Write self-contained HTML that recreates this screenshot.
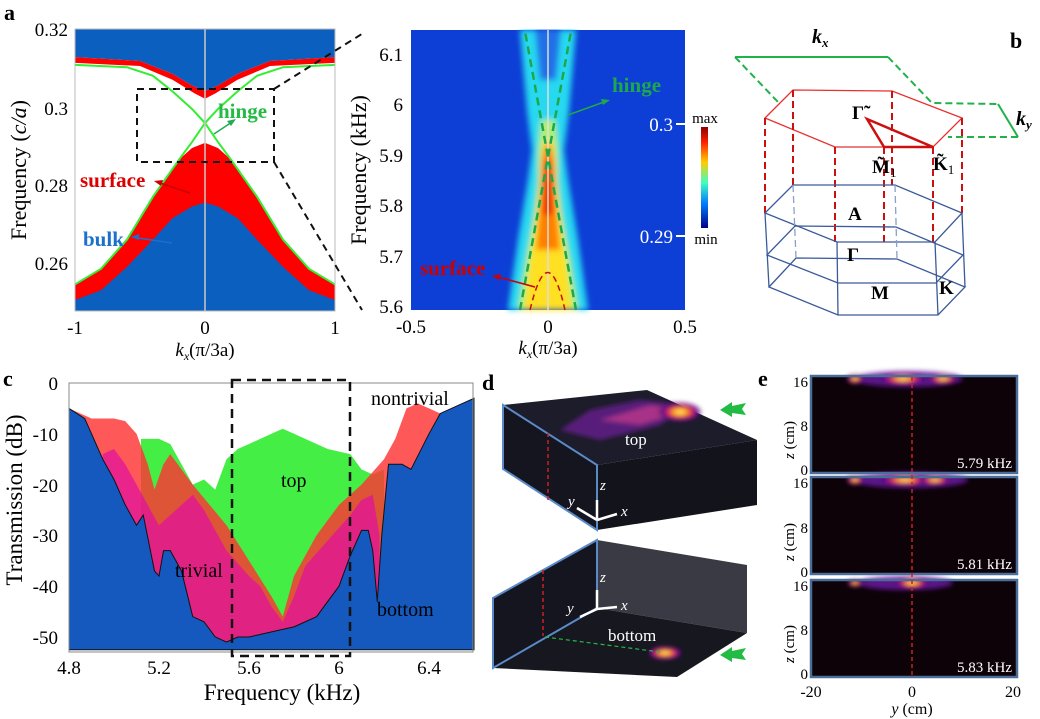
<!DOCTYPE html>
<html><head><meta charset="utf-8"><style>
body{margin:0;background:#fff;font-family:"Liberation Serif","DejaVu Serif",serif}
svg{display:block;font-family:"Liberation Serif","DejaVu Serif",serif}
text{font-family:"Liberation Serif","DejaVu Serif",serif}
</style></head><body>
<svg width="1040" height="719" viewBox="0 0 1040 719" xmlns="http://www.w3.org/2000/svg" font-family="Liberation Serif, serif">
<defs>
<filter id="bl" x="-50%" y="-20%" width="200%" height="140%"><feGaussianBlur stdDeviation="3"/></filter>
<filter id="bl2" x="-50%" y="-50%" width="200%" height="200%"><feGaussianBlur stdDeviation="2.5"/></filter>
<linearGradient id="cb" x1="0" y1="0" x2="0" y2="1">
<stop offset="0" stop-color="#8b0000"/><stop offset="0.15" stop-color="#ff2000"/><stop offset="0.35" stop-color="#ffcc00"/><stop offset="0.55" stop-color="#40ffc0"/><stop offset="0.75" stop-color="#0080ff"/><stop offset="1" stop-color="#00008b"/></linearGradient>
<radialGradient id="gl"><stop offset="0" stop-color="#fff8a0"/><stop offset="0.3" stop-color="#ffb000"/><stop offset="0.55" stop-color="#e02050"/><stop offset="0.8" stop-color="#6010a0"/><stop offset="1" stop-color="#100010" stop-opacity="0"/></radialGradient>
</defs>

<!-- Panel a left -->
<text x="4" y="20" font-size="22" font-weight="bold">a</text>
<rect x="75" y="29" width="260" height="282" fill="#fff"/>
<g transform="translate(205,1277) scale(130,-3900)">
<path d="M-1,0.32 L1,0.32 L1,0.3128 L0.5,0.3118 L0.25,0.3085 L0.1,0.3055 L0,0.3041 L-0.1,0.3055 L-0.25,0.3085 L-0.5,0.3118 L-1,0.3128 Z" fill="#0b5fbe"/>
<path d="M-1,0.3128 L-0.5,0.3118 L-0.25,0.3085 L-0.1,0.3055 L0,0.3041 L0.1,0.3055 L0.25,0.3085 L0.5,0.3118 L1,0.3128 L1,0.3113 L0.5,0.3105 L0.25,0.307 L0.08,0.3035 L0,0.3021 L-0.08,0.3035 L-0.25,0.307 L-0.5,0.3105 L-1,0.3113 Z" fill="#ff0000"/>
<path d="M-1,0.2545 L-0.8,0.2585 L-0.6,0.266 L-0.4,0.277 L-0.2,0.2865 L-0.1,0.2895 L0,0.2908 L0.1,0.2895 L0.2,0.2865 L0.4,0.277 L0.6,0.266 L0.8,0.2585 L1,0.2545 L1,0.2477 L-1,0.2477 Z" fill="#ff0000"/>
<path d="M-1,0.2505 L-0.8,0.253 L-0.6,0.259 L-0.4,0.266 L-0.25,0.2715 L-0.1,0.2745 L0,0.2755 L0.1,0.2745 L0.25,0.2715 L0.4,0.266 L0.6,0.259 L0.8,0.253 L1,0.2505 L1,0.2477 L-1,0.2477 Z" fill="#0b5fbe"/>
<path d="M-1,0.3108 L-0.6,0.3102 L-0.4,0.308 L-0.25,0.304 L-0.1,0.2995 L0,0.2959 L0.1,0.2995 L0.25,0.304 L0.4,0.308 L0.6,0.3102 L1,0.3108" fill="none" stroke="#33ee33" stroke-width="2" vector-effect="non-scaling-stroke"/>
<path d="M-1,0.2545 L-0.8,0.2585 L-0.6,0.266 L-0.4,0.277 L-0.2,0.2865 L-0.1,0.291 L0,0.2959 L0.1,0.291 L0.2,0.2865 L0.4,0.277 L0.6,0.266 L0.8,0.2585 L1,0.2545" fill="none" stroke="#33ee33" stroke-width="2" vector-effect="non-scaling-stroke"/>
</g>
<line x1="205" y1="29" x2="205" y2="311" stroke="#c8c8c8" stroke-width="1.5"/>
<rect x="75" y="29" width="260" height="282" fill="none" stroke="#bbb" stroke-width="1"/>
<rect x="137" y="89" width="137" height="73" fill="none" stroke="#111" stroke-width="2" stroke-dasharray="7,5"/>
<line x1="274" y1="89" x2="365" y2="32" stroke="#111" stroke-width="2" stroke-dasharray="7,5"/>
<line x1="274" y1="162" x2="362" y2="310" stroke="#111" stroke-width="2" stroke-dasharray="7,5"/>
<g font-size="19" text-anchor="end"><text x="68" y="36">0.32</text><text x="68" y="115">0.3</text><text x="68" y="192">0.28</text><text x="68" y="270">0.26</text></g>
<g font-size="19" text-anchor="middle"><text x="75" y="334">-1</text><text x="205" y="334">0</text><text x="335" y="334">1</text></g>
<text x="205" y="356" font-size="19" text-anchor="middle"><tspan font-style="italic">k</tspan><tspan font-size="12" dy="4" font-style="italic">x</tspan><tspan dy="-4">(π/3a)</tspan></text>
<text transform="translate(26,170) rotate(-90)" font-size="22" text-anchor="middle">Frequency (<tspan font-style="italic">c/a</tspan>)</text>
<text x="218" y="118" font-size="21" font-weight="bold" fill="#22bb44">hinge</text>
<line x1="214" y1="134" x2="232" y2="122" stroke="#22aa55" stroke-width="1.5"/><path d="M236,119 l-9,2 4,5z" fill="#22aa55"/>
<text x="80" y="187" font-size="21" font-weight="bold" fill="#dd0000">surface</text>
<line x1="190" y1="193" x2="160" y2="183" stroke="#c00" stroke-width="1.5"/><path d="M154,181 l9,-1 -2,6z" fill="#c00"/>
<text x="83" y="246" font-size="21" font-weight="bold" fill="#1a70cc">bulk</text>
<line x1="172" y1="243" x2="138" y2="238" stroke="#1a70cc" stroke-width="1.5"/><path d="M131,237 l8,-3 0,6z" fill="#1a70cc"/>

<!-- Panel a right -->
<rect x="411" y="30" width="274" height="280" fill="#0d3ed6"/>
<g filter="url(#bl)">
<path d="M508,310 L518,240 L528,180 L532,150 L527,110 L520,30 L576,30 L569,110 L564,150 L568,180 L578,240 L588,310Z" fill="#28d8f0"/>
<path d="M535,30 L540,80 L556,80 L561,30Z" fill="#2070e8"/>
<path d="M518,310 L526,260 L534,215 L538,180 L538,150 L541,120 L555,120 L558,150 L558,180 L562,215 L570,260 L578,310Z" fill="#b0f070"/>
<path d="M524,310 L530,260 L536,220 L540,190 L541,160 L544,140 L552,140 L555,160 L556,190 L560,220 L566,260 L572,310Z" fill="#ffe020"/>
<path d="M536,250 L539,215 L541,185 L542,160 L545,145 L551,145 L554,160 L555,185 L557,215 L560,250Z" fill="#ff8000"/>
<path d="M542,215 L543,180 L545,160 L551,160 L553,180 L554,215Z" fill="#f03a00"/>
</g>
<line x1="548" y1="30" x2="548" y2="310" stroke="#ddd" stroke-width="1.5"/>
<line x1="520" y1="310" x2="576" y2="4" stroke="#1fa84a" stroke-width="2.5" stroke-dasharray="8,5"/>
<line x1="576" y1="310" x2="520" y2="4" stroke="#1fa84a" stroke-width="2.5" stroke-dasharray="8,5"/>
<rect x="500" y="0" width="100" height="29" fill="#fff"/>
<path d="M530,310 Q548,235 565,310" fill="none" stroke="#c01010" stroke-width="1.5" stroke-dasharray="6,4"/>
<text x="612" y="92" font-size="21" font-weight="bold" fill="#1fa84a">hinge</text>
<line x1="568" y1="115" x2="604" y2="102" stroke="#1fa84a" stroke-width="1.5"/><path d="M610,100 l-9,-1 2,6z" fill="#1fa84a"/>
<text x="420" y="275" font-size="21" font-weight="bold" fill="#cc0000">surface</text>
<line x1="535" y1="287" x2="498" y2="277" stroke="#c00" stroke-width="1.5"/><path d="M492,276 l9,-2 -2,6z" fill="#c00"/>
<g font-size="19" fill="#fff" text-anchor="end"><text x="673" y="131">0.3</text><text x="673" y="243">0.29</text></g>
<line x1="676" y1="124" x2="685" y2="124" stroke="#fff" stroke-width="2"/><line x1="676" y1="236" x2="685" y2="236" stroke="#fff" stroke-width="2"/>
<rect x="701" y="127" width="7" height="101" fill="url(#cb)"/>
<text x="705" y="123" font-size="15" text-anchor="middle">max</text>
<text x="706" y="244" font-size="15" text-anchor="middle">min</text>
<g font-size="19" text-anchor="end"><text x="403" y="61">6.1</text><text x="403" y="111">6</text><text x="403" y="162">5.9</text><text x="403" y="212">5.8</text><text x="403" y="263">5.7</text><text x="403" y="313">5.6</text></g>
<g font-size="19" text-anchor="middle"><text x="411" y="333">-0.5</text><text x="548" y="333">0</text><text x="685" y="333">0.5</text></g>
<text x="548" y="354" font-size="19" text-anchor="middle"><tspan font-style="italic">k</tspan><tspan font-size="12" dy="4" font-style="italic">x</tspan><tspan dy="-4">(π/3a)</tspan></text>
<text transform="translate(366,170) rotate(-90)" font-size="22" text-anchor="middle">Frequency (kHz)</text>

<!-- Panel b -->
<text x="1010" y="48" font-size="22" font-weight="bold">b</text>
<g fill="none" stroke-width="2">
<path d="M735,57 L888,57" stroke="#22b24a"/>
<path d="M888,57 L932,103 L998,104" stroke="#22b24a" stroke-dasharray="7,4"/>
<path d="M998,104 L1018,137" stroke="#22b24a"/>
<path d="M1018,137 L948,137 M735,57 L778,102" stroke="#22b24a" stroke-dasharray="7,4"/>
</g>
<path d="M765,118 L793,90 L892,91 L962,118 L933,147 L835,147 Z" fill="none" stroke="#e83030" stroke-width="1.3"/>
<path d="M867,119 L884,147 L933,147 Z" fill="none" stroke="#cc1010" stroke-width="2.5"/>
<g stroke="#cc1010" stroke-width="2" stroke-dasharray="7,4">
<line x1="765" y1="118" x2="765" y2="213"/><line x1="793" y1="90" x2="793" y2="185"/><line x1="892" y1="91" x2="892" y2="185"/><line x1="962" y1="118" x2="962" y2="213"/><line x1="933" y1="147" x2="933" y2="243"/><line x1="835" y1="147" x2="835" y2="243"/><line x1="884" y1="147" x2="884" y2="243"/>
</g>
<g fill="none" stroke="#3a5a9a" stroke-width="1.3">
<path d="M765,213 L793,185 L895,185 L962,213 L935,242 L837,242 Z"/>
<path d="M767,255 L795,226 L896,227 L963,255 L936,283 L838,283 Z"/>
<path d="M769,287 L796,258 L897,259 L965,287 L938,315 L838,315 Z"/>
<path d="M765,213 L769,287 M962,213 L965,287 M935,242 L938,315 M837,242 L838,315"/>
<path d="M793,185 L796,258 M895,185 L897,259" stroke="#8aa0c8" stroke-dasharray="7,4"/>
</g>
<g font-size="20" font-weight="bold" font-style="italic"><text x="812" y="43">k<tspan font-size="13" dy="4">x</tspan></text><text x="1016" y="125">k<tspan font-size="13" dy="4">y</tspan></text></g>
<g font-size="19" font-weight="bold"><text x="852" y="119">Γ̃</text><text x="872" y="173">M̃<tspan font-size="13" font-weight="normal" dy="4">1</tspan></text><text x="933" y="170">K̃<tspan font-size="13" font-weight="normal" dy="4">1</tspan></text><text x="848" y="220">A</text><text x="847" y="261">Γ</text><text x="871" y="299">M</text><text x="939" y="294">K</text></g>

<!-- Panel c -->
<text x="3" y="386" font-size="22" font-weight="bold">c</text>
<rect x="69" y="383" width="404" height="269" fill="#fff"/>
<g transform="translate(-1011,383) scale(225,-5.08)">
<path d="M5.12,-11 L5.2,-11 L5.25,-12 L5.3,-16 L5.35,-20 L5.4,-19 L5.45,-21 L5.5,-15 L5.55,-13 L5.6,-12 L5.7,-10 L5.75,-9 L5.8,-10 L5.85,-11 L5.95,-13 L6.05,-14 L6.1,-17 L6.15,-18 L6.2,-17 L6.2,-52.5 L5.12,-52.5Z" fill="#44ee44"/>
<path d="M4.8,-5 L4.9,-7 L5.0,-7 L5.05,-7.5 L5.1,-10 L5.15,-16 L5.18,-21 L5.22,-16 L5.25,-14 L5.35,-20 L5.5,-28 L5.6,-35 L5.7,-42 L5.75,-46 L5.8,-38 L5.9,-30 L6.0,-24 L6.1,-20 L6.2,-15 L6.25,-11 L6.3,-5 L6.35,-4 L6.4,-5 L6.45,-6 L6.6,-4 L6.6,-52.5 L4.8,-52.5Z" fill="#ff3333" fill-opacity="0.82"/>
<path d="M4.95,-14 L5.0,-13 L5.05,-16 L5.1,-20 L5.15,-24 L5.2,-28 L5.3,-24 L5.35,-22 L5.4,-25 L5.5,-33 L5.6,-38 L5.65,-40 L5.7,-44 L5.75,-47 L5.8,-42 L5.85,-36 L5.95,-31 L6.05,-26 L6.1,-23 L6.15,-22 L6.18,-30 L6.18,-52.5 L4.95,-52.5Z" fill="#e010a0" fill-opacity="0.72"/>
<path d="M4.8,-5 L4.87,-7 L4.95,-15 L5.0,-19 L5.05,-24 L5.1,-28 L5.13,-26 L5.18,-37 L5.2,-38 L5.22,-33 L5.25,-33 L5.3,-37 L5.35,-46 L5.4,-47 L5.45,-50 L5.5,-51 L5.55,-50 L5.6,-50 L5.7,-49 L5.8,-48 L5.9,-46 L5.95,-43 L6.0,-40 L6.05,-34 L6.1,-29 L6.13,-29 L6.15,-33 L6.17,-43 L6.19,-30 L6.22,-16 L6.28,-16 L6.32,-17 L6.4,-10 L6.45,-6 L6.55,-4 L6.6,-3 L6.6,-52.5 L4.8,-52.5Z" fill="#1559be" stroke="#111" stroke-width="1" vector-effect="non-scaling-stroke"/>
</g>
<rect x="69" y="383" width="404" height="269" fill="none" stroke="#888" stroke-width="1"/>
<rect x="232" y="380" width="118" height="276" fill="none" stroke="#111" stroke-width="2.5" stroke-dasharray="9,6"/>
<g font-size="19" text-anchor="end"><text x="58" y="390">0</text><text x="58" y="441">-10</text><text x="58" y="492">-20</text><text x="58" y="542">-30</text><text x="58" y="593">-40</text><text x="58" y="644">-50</text></g>
<g font-size="19" text-anchor="middle"><text x="69" y="674">4.8</text><text x="159" y="674">5.2</text><text x="249" y="674">5.6</text><text x="339" y="674">6</text><text x="429" y="674">6.4</text></g>
<text x="282" y="700" font-size="23" text-anchor="middle">Frequency (kHz)</text>
<text transform="translate(22,500) rotate(-90)" font-size="23" text-anchor="middle">Transmission (dB)</text>
<g font-size="20"><text x="281" y="487">top</text><text x="175" y="577">trivial</text><text x="371" y="405">nontrivial</text><text x="377" y="616">bottom</text></g>

<!-- Panel d -->
<text x="482" y="390" font-size="22" font-weight="bold">d</text>
<path d="M503,405 L647,390 L757,440 L597,465 Z" fill="#1c1c2a"/>
<path d="M597,465 L757,440 L757,505 L597,530 Z" fill="#13131c"/>
<path d="M503,405 L597,465 L597,530 L503,469 Z" fill="#15151f" stroke="#5a8ac8" stroke-width="2"/>
<g filter="url(#bl2)">
<path d="M560,430 L590,410 L640,400 L690,405 L660,425 L600,440Z" fill="#8020b0" opacity="0.6"/>
<path d="M600,420 L650,405 L690,410 L640,425Z" fill="#e04090" opacity="0.6"/>
<ellipse cx="680" cy="412" rx="22" ry="10" fill="url(#gl)"/>
</g>
<text x="625" y="445" font-size="17" fill="#fff">top</text>
<path d="M720,410 l12,-8 0,4 14,-3 -4,6 4,6 -14,-2 0,4z" fill="#22bb44"/>
<path d="M597,540 L747,565 L747,633 L597,608 Z" fill="#3a3a44"/>
<path d="M493,668 L597,608 L747,633 L677,677 Z" fill="#17171f"/>
<path d="M493,598 L597,540 L597,608 L493,668 Z" fill="#15151f" stroke="#5a8ac8" stroke-width="2"/>
<ellipse cx="665" cy="653" rx="18" ry="7" fill="url(#gl)" filter="url(#bl2)"/>
<text x="608" y="641" font-size="17" fill="#fff">bottom</text>
<path d="M720,655 l12,-8 0,4 14,-3 -4,6 4,6 -14,-2 0,4z" fill="#22bb44"/>
<line x1="548" y1="433" x2="548" y2="500" stroke="#cc2020" stroke-width="1.5" stroke-dasharray="4,3"/>
<line x1="543" y1="570" x2="543" y2="636" stroke="#cc2020" stroke-width="1.5" stroke-dasharray="4,3"/>
<line x1="545" y1="637" x2="660" y2="652" stroke="#22bb44" stroke-width="1.2" stroke-dasharray="4,3"/>
<g stroke="#fff" stroke-width="2.5"><line x1="597" y1="520" x2="597" y2="500"/><line x1="597" y1="520" x2="617" y2="514"/><line x1="597" y1="520" x2="577" y2="508"/><line x1="597" y1="609" x2="597" y2="590"/><line x1="597" y1="609" x2="617" y2="607"/><line x1="597" y1="609" x2="580" y2="617"/></g>
<g font-size="15" font-style="italic" fill="#fff"><text x="600" y="490">z</text><text x="621" y="516">x</text><text x="568" y="506">y</text><text x="600" y="582">z</text><text x="621" y="610">x</text><text x="567" y="613">y</text></g>

<!-- Panel e -->
<text x="758" y="386" font-size="22" font-weight="bold">e</text>
<rect x="811" y="376" width="206" height="97" fill="#0c0208"/>
<rect x="811" y="477" width="206" height="97" fill="#0c0208"/>
<rect x="811" y="580" width="206" height="97" fill="#0c0208"/>
<g filter="url(#bl2)">
<ellipse cx="908" cy="379" rx="55" ry="8" fill="#6a1aa0" opacity="0.85"/>
<ellipse cx="903" cy="379" rx="24" ry="6" fill="url(#gl)"/>
<ellipse cx="943" cy="379" rx="16" ry="5" fill="url(#gl)"/>
<ellipse cx="855" cy="379" rx="9" ry="5" fill="url(#gl)"/>
<ellipse cx="910" cy="480" rx="58" ry="8" fill="#6a1aa0" opacity="0.85"/>
<ellipse cx="905" cy="480" rx="26" ry="6" fill="url(#gl)"/>
<ellipse cx="935" cy="480" rx="16" ry="5" fill="url(#gl)"/>
<ellipse cx="855" cy="480" rx="9" ry="5" fill="url(#gl)"/>
<ellipse cx="905" cy="583" rx="48" ry="7" fill="#6a1aa0" opacity="0.85"/>
<ellipse cx="912" cy="583" rx="18" ry="6" fill="url(#gl)"/>
<ellipse cx="855" cy="583" rx="8" ry="4" fill="url(#gl)"/>
</g>
<rect x="811" y="376" width="206" height="97" fill="none" stroke="#4a6e99" stroke-width="2.5"/>
<rect x="811" y="477" width="206" height="97" fill="none" stroke="#4a6e99" stroke-width="2.5"/>
<rect x="811" y="580" width="206" height="97" fill="none" stroke="#4a6e99" stroke-width="2.5"/>
<line x1="912" y1="377" x2="912" y2="677" stroke="#cc2020" stroke-width="1.5" stroke-dasharray="4,3"/>
<g font-size="15" fill="#fff" text-anchor="end"><text x="1012" y="468">5.79 kHz</text><text x="1012" y="569">5.81 kHz</text><text x="1012" y="672">5.83 kHz</text></g>
<g font-size="15" text-anchor="end"><text x="808" y="387">16</text><text x="808" y="431">8</text><text x="808" y="475">0</text><text x="808" y="488">16</text><text x="808" y="533">8</text><text x="808" y="577">0</text><text x="808" y="591">16</text><text x="808" y="635">8</text><text x="808" y="679">0</text></g>
<g font-size="15"><text transform="translate(794,440) rotate(-90)" text-anchor="middle"><tspan font-style="italic">z</tspan> (cm)</text><text transform="translate(794,542) rotate(-90)" text-anchor="middle"><tspan font-style="italic">z</tspan> (cm)</text><text transform="translate(794,644) rotate(-90)" text-anchor="middle"><tspan font-style="italic">z</tspan> (cm)</text></g>
<g font-size="16" text-anchor="middle"><text x="811" y="697">-20</text><text x="912" y="697">0</text><text x="1013" y="697">20</text><text x="912" y="714"><tspan font-style="italic">y</tspan> (cm)</text></g>
</svg>
</body></html>
